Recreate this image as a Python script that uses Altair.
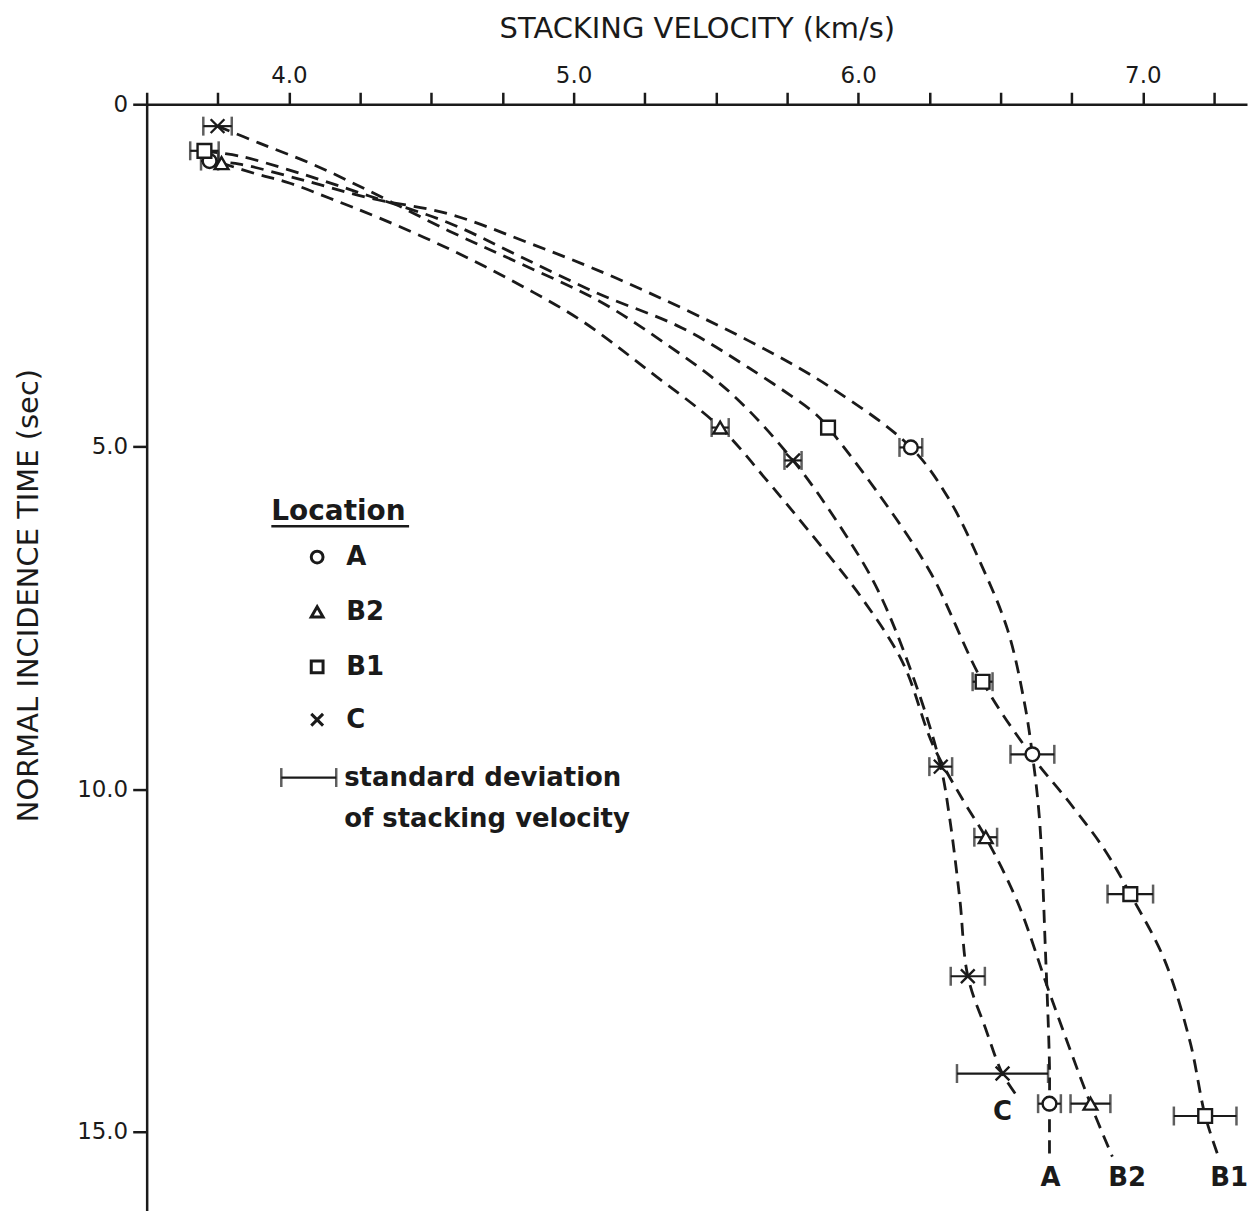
import altair as alt
import pandas as pd

FONT = "DejaVu Sans"
INK = "#1a1a1a"

locations = ["A", "B2", "B1", "C"]
shape_paths = ["circle", "triangle-up", "square", "M-1,-1L1,1M-1,1L1,-1"]

# measured points: stacking velocity (km/s), normal incidence time (s), std-dev half width (km/s)
A_v = [3.721, 6.185, 6.612, 6.672]
A_t = [0.83, 5.01, 9.49, 14.59]
A_sd = [0.03, 0.04, 0.077, 0.04]

B2_v = [3.763, 5.515, 6.448, 6.816]
B2_t = [0.86, 4.72, 10.70, 14.59]
B2_sd = [0.0, 0.03, 0.04, 0.07]

B1_v = [3.703, 5.894, 6.437, 6.956, 7.219]
B1_t = [0.68, 4.72, 8.43, 11.53, 14.77]
B1_sd = [0.05, 0.0, 0.035, 0.08, 0.11]

C_v = [3.749, 5.771, 6.290, 6.385, 6.507]
C_t = [0.32, 5.20, 9.67, 12.73, 14.15]
C_sd = [0.05, 0.03, 0.04, 0.06, 0.16]

# hand-drawn dashed curves
curve_A_v = [3.721, 3.826, 4.036, 4.282, 4.562, 4.842, 5.147, 5.614, 5.904, 6.185,
             6.315, 6.430, 6.525, 6.584, 6.612, 6.637, 6.658, 6.672, 6.672, 6.672]
curve_A_t = [0.83, 0.874, 1.092, 1.369, 1.602, 2.024, 2.534, 3.451, 4.136, 5.009,
             5.737, 6.699, 7.674, 8.737, 9.494, 10.441, 12.378, 14.038, 14.591, 15.363]

curve_B1_v = [3.703, 3.826, 4.036, 4.282, 4.562, 4.807, 5.088, 5.379, 5.614, 5.848, 5.894,
              6.080, 6.255, 6.437, 6.612, 6.742, 6.865, 6.956, 7.075, 7.166, 7.219, 7.268]
curve_B1_t = [0.684, 0.757, 1.005, 1.340, 1.733, 2.213, 2.767, 3.262, 3.844, 4.514, 4.718,
              5.737, 6.844, 8.431, 9.524, 10.193, 10.878, 11.53, 12.480, 13.688, 14.766, 15.392]

curve_C_v = [3.749, 3.896, 4.082, 4.282, 4.562, 4.807, 5.088, 5.323, 5.554, 5.771,
             5.929, 6.069, 6.209, 6.290, 6.322, 6.357, 6.385, 6.448, 6.507, 6.560]
curve_C_t = [0.32, 0.568, 0.874, 1.267, 1.849, 2.315, 2.869, 3.495, 4.223, 5.199,
             6.116, 7.092, 8.548, 9.669, 10.441, 11.606, 12.727, 13.499, 14.154, 14.489]

curve_B2_v = [3.763, 3.886, 4.001, 4.141, 4.317, 4.562, 4.797, 5.028, 5.263, 5.515, 5.673,
              5.824, 6.010, 6.157, 6.262, 6.367, 6.448, 6.560, 6.676, 6.816, 6.893]
curve_B2_t = [0.859, 1.019, 1.150, 1.369, 1.660, 2.111, 2.607, 3.160, 3.888, 4.718, 5.461,
              6.218, 7.194, 8.155, 9.349, 10.150, 10.703, 11.650, 13.018, 14.591, 15.363]

# curve end labels
label_text = ["C", "A", "B2", "B1"]
label_v = [6.507, 6.676, 6.945, 7.303]
label_t = [14.71, 15.68, 15.68, 15.68]

# axis ticks
x_tick_values = [3.5, 3.75, 4.0, 4.25, 4.5, 4.75, 5.0, 5.25, 5.5, 5.75,
                 6.0, 6.25, 6.5, 6.75, 7.0, 7.25]
y_tick_values = [0, 5, 10, 15]

# key (drawn inside the plot, in data units)
key_title = "Location"
key_title_v = 3.938
key_title_t = 5.956
key_underline_v = [3.938, 4.422]
key_underline_t = 6.16
key_symbol_v = 4.099
key_label_v = 4.201
key_row_t = [6.611, 7.412, 8.213, 8.985]
key_sd_glyph_v = [3.973, 4.166]
key_sd_glyph_t = 9.829
key_sd_text = ["standard deviation", "of stacking velocity"]
key_sd_text_v = 4.194
key_sd_text_t = [9.829, 10.441]

# ---------------- tables ----------------
pts_rows, curve_rows = [], []
for name, vs, ts, sds in [("A", A_v, A_t, A_sd), ("B2", B2_v, B2_t, B2_sd),
                          ("B1", B1_v, B1_t, B1_sd), ("C", C_v, C_t, C_sd)]:
    for v, t, s in zip(vs, ts, sds):
        pts_rows.append({"loc": name, "v": v, "t": t, "lo": v - s, "hi": v + s, "sd": s})
for name, vs, ts in [("A", curve_A_v, curve_A_t), ("B1", curve_B1_v, curve_B1_t),
                     ("C", curve_C_v, curve_C_t), ("B2", curve_B2_v, curve_B2_t)]:
    for i, (v, t) in enumerate(zip(vs, ts)):
        curve_rows.append({"loc": name, "v": v, "t": t, "i": i})
pts = pd.DataFrame(pts_rows)
curves = pd.DataFrame(curve_rows)
bars = pts[pts["sd"] > 0].copy()
bars = pd.concat([bars, pd.DataFrame([{"loc": "key", "v": sum(key_sd_glyph_v) / 2, "t": key_sd_glyph_t,
                                        "lo": key_sd_glyph_v[0], "hi": key_sd_glyph_v[1], "sd": 1}])],
                 ignore_index=True)
caps = pd.concat([bars.assign(v=bars["lo"]), bars.assign(v=bars["hi"])], ignore_index=True)
labels = pd.DataFrame({"txt": label_text, "v": label_v, "t": label_t})

key_sym = pd.DataFrame({"loc": locations, "v": [key_symbol_v] * 4, "t": key_row_t})
key_lab = pd.DataFrame({"txt": locations, "v": [key_label_v] * 4, "t": key_row_t})
key_sd = pd.DataFrame({"txt": key_sd_text, "v": [key_sd_text_v] * 2, "t": key_sd_text_t})
key_ttl = pd.DataFrame({"txt": [key_title], "v": [key_title_v], "t": [key_title_t]})
key_ul = pd.DataFrame({"v": [key_underline_v[0]], "v2": [key_underline_v[1]], "t": [key_underline_t]})

xscale = alt.Scale(domain=[3.5, 7.366], nice=False, zero=False)
yscale = alt.Scale(domain=[0, 16.15], reverse=True, nice=False, zero=True)
shape_scale = alt.Scale(domain=locations, range=shape_paths)

axis_style = dict(labelFont=FONT, labelFontSize=23, labelColor=INK, titleFont=FONT,
                  titleFontSize=29, titleFontWeight="normal", titleColor=INK,
                  domainColor=INK, tickColor=INK, tickWidth=2.5, domainWidth=2.5,
                  grid=False, labelFlush=False, labelOverlap=False)

X = alt.X("v:Q", scale=xscale, axis=alt.Axis(
    orient="top", values=x_tick_values,
    labelExpr="(datum.value % 1 == 0 && datum.value > 3.9) ? format(datum.value, '.1f') : ''",
    title="STACKING VELOCITY (km/s)", titleY=-76, titleBaseline="middle",
    labelPadding=5, tickSize=12, **axis_style))
Y = alt.Y("t:Q", scale=yscale, axis=alt.Axis(
    values=y_tick_values,
    labelExpr="datum.value == 0 ? '0' : format(datum.value, '.1f')",
    title="NORMAL INCIDENCE TIME (sec)", titleAngle=270, titleX=-118, titleY=492,
    titleAlign="center", titleBaseline="middle",
    labelPadding=5, tickSize=14, **axis_style))
Xp = alt.X("v:Q", scale=xscale)
Yp = alt.Y("t:Q", scale=yscale)

lines = alt.Chart(curves).mark_line(
    strokeDash=[13, 8], strokeWidth=2.8, color=INK, interpolate="catmull-rom"
).encode(x=X, y=Y, detail="loc:N", order="i:Q")

rules = alt.Chart(bars).mark_rule(strokeWidth=2.2, color=INK).encode(
    x=alt.X("lo:Q", scale=xscale), x2="hi:Q", y=Yp)

cap_ticks = alt.Chart(caps).mark_tick(orient="vertical", size=19, thickness=2.5, color=INK).encode(
    x=Xp, y=Yp)

markers = alt.Chart(pts).mark_point(
    filled=False, fill="white", color=INK, strokeWidth=2.4, size=190, opacity=1, fillOpacity=1
).encode(x=Xp, y=Yp, shape=alt.Shape("loc:N", scale=shape_scale, legend=None))

curve_labels = alt.Chart(labels).mark_text(
    font=FONT, fontSize=26, fontWeight="bold", color=INK, align="center", baseline="middle"
).encode(x=Xp, y=Yp, text="txt:N")

key_symbols = alt.Chart(key_sym).mark_point(
    filled=False, fill="white", color=INK, strokeWidth=3, size=140, opacity=1, fillOpacity=1
).encode(x=Xp, y=Yp, shape=alt.Shape("loc:N", scale=shape_scale, legend=None))

key_labels = alt.Chart(key_lab).mark_text(
    font=FONT, fontSize=26, fontWeight="bold", color=INK, align="left", baseline="middle"
).encode(x=Xp, y=Yp, text="txt:N")

key_sd_labels = alt.Chart(key_sd).mark_text(
    font=FONT, fontSize=26, fontWeight="bold", color=INK, align="left", baseline="middle"
).encode(x=Xp, y=Yp, text="txt:N")

key_title_text = alt.Chart(key_ttl).mark_text(
    font=FONT, fontSize=28, fontWeight="bold", color=INK, align="left", baseline="middle"
).encode(x=Xp, y=Yp, text="txt:N")

key_underline = alt.Chart(key_ul).mark_rule(strokeWidth=2.4, color=INK).encode(
    x=Xp, x2="v2:Q", y=Yp)

chart = alt.layer(
    lines, rules, cap_ticks, markers, curve_labels,
    key_symbols, key_labels, key_sd_labels, key_title_text, key_underline
).properties(
    width=1103, height=1109, background="white",
    padding={"left": 7, "top": 5, "right": 0, "bottom": 0}
).configure_view(stroke=None)

chart.save("out.html", embed_options={"renderer": "svg", "actions": False})
